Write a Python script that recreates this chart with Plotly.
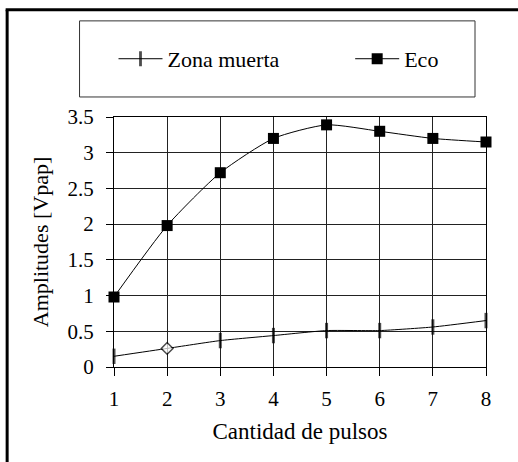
import plotly.graph_objects as go

pulsos = [1, 2, 3, 4, 5, 6, 7, 8]
zona_muerta = [0.15, 0.26, 0.37, 0.44, 0.51, 0.51, 0.56, 0.65]
eco = [0.98, 1.98, 2.72, 3.20, 3.39, 3.30, 3.20, 3.15]

W, H = 518, 462
L, R, T, B = 113.5, 32, 117, 95.3
PW, PH = W - L - R, H - T - B
FONT = "Liberation Serif, serif"
TITLE_SIZE = 22
TICK_SIZE = 21


def px_x(p):
    return (p - L) / PW


def px_y(p):
    return (H - B - p) / PH


zm_symbols = ["line-ns-open"] * len(pulsos)
zm_symbols[1] = "diamond"
zm_colors = ["black"] * len(pulsos)
zm_colors[1] = "white"
zm_sizes = [11] * len(pulsos)
zm_sizes[1] = 9
zm_lw = [3] * len(pulsos)
zm_lw[1] = 1.5

fig = go.Figure()
fig.add_trace(go.Scatter(
    x=pulsos, y=zona_muerta, name="Zona muerta", mode="lines+markers",
    line=dict(color="black", width=1, shape="spline", smoothing=0.5),
    marker=dict(symbol=zm_symbols, color=zm_colors, size=zm_sizes,
                line=dict(color="black", width=zm_lw)),
    cliponaxis=False, legend="legend",
))
fig.add_trace(go.Scatter(
    x=pulsos, y=eco, name="Eco", mode="lines+markers",
    line=dict(color="black", width=1, shape="spline", smoothing=0.6),
    marker=dict(symbol="square", color="black", size=11),
    cliponaxis=False, legend="legend2",
))

shapes = [
    # outer frame (left and top edges)
    dict(type="line", xref="paper", yref="paper", x0=px_x(6.5), x1=px_x(6.5),
         y0=px_y(10), y1=px_y(H + 5), line=dict(color="black", width=3)),
    dict(type="line", xref="paper", yref="paper", x0=px_x(5), x1=px_x(W + 5),
         y0=px_y(10), y1=px_y(10), line=dict(color="black", width=3)),
    # legend box
    dict(type="rect", xref="paper", yref="paper", x0=px_x(79), x1=px_x(475),
         y0=px_y(97), y1=px_y(21), line=dict(color="#333", width=1)),
]

legend_common = dict(
    orientation="h", yanchor="middle", xanchor="left",
    bgcolor="rgba(0,0,0,0)", borderwidth=0, itemwidth=44,
    font=dict(family=FONT, size=TITLE_SIZE, color="black"),
)

fig.update_layout(
    width=W, height=H,
    margin=dict(l=L, r=R, t=T, b=B, pad=0),
    paper_bgcolor="white", plot_bgcolor="white",
    font=dict(family=FONT, size=TITLE_SIZE, color="black"),
    shapes=shapes,
    showlegend=True,
    legend=dict(x=px_x(113), y=px_y(59), **legend_common),
    legend2=dict(x=px_x(350), y=px_y(59), **legend_common),
)
fig.update_xaxes(
    range=[1, 8], dtick=1, showgrid=True, gridcolor="#222", gridwidth=1,
    showline=True, linecolor="black", linewidth=1, zeroline=False, mirror=True,
    ticks="outside", ticklen=8, tickcolor="black", ticklabelstandoff=5,
    tickfont=dict(family=FONT, size=TICK_SIZE, color="black"),
    title=dict(text="Cantidad de pulsos", standoff=12,
               font=dict(family=FONT, size=23, color="black")),
)
fig.update_yaxes(
    range=[0, 3.5], dtick=0.5, showgrid=True, gridcolor="#222", gridwidth=1,
    showline=True, linecolor="black", linewidth=1, zeroline=False, mirror=True,
    ticks="outside", ticklen=7, tickcolor="black", ticklabelstandoff=8,
    tickfont=dict(family=FONT, size=TICK_SIZE, color="black"),
    title=dict(text="Amplitudes [Vpap]", standoff=12,
               font=dict(family=FONT, size=TITLE_SIZE, color="black")),
)

fig.write_html("out.html", config={"displayModeBar": False},
               post_script="document.body.style.margin='0';")
